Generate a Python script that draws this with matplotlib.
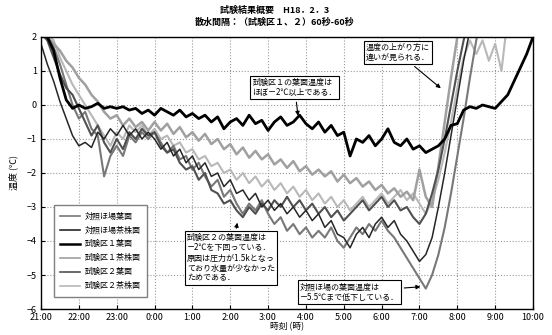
import numpy as np
import matplotlib
matplotlib.use("Agg")
import matplotlib.pyplot as plt

plt.rcParams['font.family'] = ['Noto Sans CJK JP', 'DejaVu Sans']

# readings every 10 minutes from 21:00 to 10:00 (hours after 21:00)
hours = np.linspace(0, 13, 79)
tick_labels = ["21:00", "22:00", "23:00", "0:00", "1:00", "2:00", "3:00",
               "4:00", "5:00", "6:00", "7:00", "8:00", "9:00", "10:00"]

n = None
# 対照ほ場葉面
ctrl_leaf = [2.2, 2.0, 1.7, 1.2, 0.6, 0.0,
             -0.4, -0.2, -0.7, -0.9, -2.1, -1.5,
             -1.2, -1.5, -0.9, -1.1, -0.8, -1.0,
             -0.8, -1.1, -1.4, -1.2, -1.6, -1.5,
             -1.9, -1.7, -2.1, -2.4, -2.2, -2.7,
             -2.5, -2.9, -3.2, -2.9, -3.1, -2.8,
             -3.2, -3.5, -3.3, -3.7, -3.5, -3.8,
             -3.6, -3.9, -3.7, -3.9, -3.6, -4.0,
             -4.2, -3.9, -3.6, -3.8, -3.5, -3.7,
             -3.4, -3.7, -3.9, -4.2, -4.5, -4.8,
             -5.1, -5.4, -5.0, -4.4, -3.6, -2.6,
             -1.5, -0.4, 0.8, 1.9, 2.8, n,
             n, n, n, n, n, n,
             n]
# 対照ほ場茶株面
ctrl_stock = [1.8, 1.2, 0.7, 0.1, -0.4, -0.9,
              -1.2, -1.1, -1.25, -0.8, -1.0, -0.7,
              -0.9, -0.6, -0.9, -0.7, -1.0, -0.8,
              -1.0, -1.3, -1.1, -1.5, -1.3, -1.7,
              -1.5, -1.9, -1.7, -2.1, -2.0, -2.4,
              -2.2, -2.6, -2.5, -2.8, -2.6, -3.0,
              -2.8, -3.1, -2.9, -3.2, -3.0, -3.3,
              -3.1, -3.4, -3.2, -3.6, -3.4, -3.8,
              -3.9, -4.2, -3.8, -3.6, -3.9, -3.5,
              -3.3, -3.6, -3.4, -3.8, -4.0, -4.3,
              -4.6, -4.4, -3.9, -3.0, -2.0, -0.9,
              0.2, 1.3, 2.2, 2.8, n, n,
              n, n, n, n, n, n,
              n]
# 試験区１葉面
t1_leaf = [2.3, 2.0, 1.6, 0.8, 0.15, -0.1,
           0.0, -0.1, -0.05, 0.05, -0.1, -0.05,
           -0.1, -0.05, -0.15, -0.1, -0.25, -0.15,
           -0.3, -0.1, -0.2, -0.3, -0.15, -0.35,
           -0.25, -0.4, -0.3, -0.5, -0.35, -0.7,
           -0.5, -0.4, -0.6, -0.3, -0.55, -0.45,
           -0.75, -0.5, -0.35, -0.6, -0.5, -0.3,
           -0.55, -0.7, -0.5, -0.8, -0.6, -0.9,
           -0.8, -1.5, -1.0, -1.1, -0.9, -1.2,
           -1.0, -0.7, -1.1, -1.2, -1.0, -1.3,
           -1.2, -1.4, -1.3, -1.2, -1.0, -0.6,
           -0.55, -0.15, -0.05, -0.1, 0.0, -0.05,
           -0.1, 0.1, 0.3, 0.7, 1.1, 1.5,
           2.0]
# 試験区１茶株面
t1_stock = [2.4, 2.0, 1.8, 1.6, 1.3, 1.1,
            0.8, 0.6, 0.3, 0.1, -0.2, -0.4,
            -0.3, -0.6, -0.4, -0.65, -0.5, -0.75,
            -0.5, -0.75, -0.55, -0.85, -0.65, -0.95,
            -0.8, -1.05, -0.85, -1.15, -1.0, -1.3,
            -1.15, -1.45, -1.25, -1.55, -1.35, -1.6,
            -1.45, -1.75, -1.6, -1.85, -1.65, -1.95,
            -1.8, -2.05, -1.9, -2.1, -1.95, -2.25,
            -2.05, -2.3, -2.15, -2.4, -2.25, -2.5,
            -2.35, -2.6, -2.45, -2.7, -2.55, -2.8,
            -1.9, -2.7, -3.0, -1.8, -0.5, 0.8,
            2.0, 2.8, n, n, n, n,
            n, n, n, n, n, n,
            n]
# 試験区２葉面
t2_leaf = [2.1, 1.9, 1.4, 0.9, 0.5, 0.3,
           -0.1, -0.5, -0.9, -0.6, -1.1, -1.4,
           -1.0, -1.3, -0.8, -1.0, -0.7, -0.9,
           -0.8, -1.2, -1.4, -1.3, -1.7, -1.9,
           -1.8, -2.2, -2.0, -2.5, -2.6, -2.9,
           -2.8, -3.1, -3.3, -3.0, -3.2, -2.9,
           -3.1, -2.8, -3.0, -2.7, -3.0, -2.8,
           -3.1, -2.9, -3.2, -3.0, -3.3, -3.1,
           -3.4, -3.2, -3.0, -2.8, -3.1, -2.9,
           -2.7, -3.0, -2.8, -3.1, -3.0, -3.3,
           -3.5, -3.2, -2.6, -1.9, -1.0, 0.0,
           1.0, 1.9, 2.6, n, n, n,
           n, n, n, n, n, n,
           n]
# 試験区２茶株面
t2_stock = [2.3, 2.1, 1.9, 1.4, 1.0, 0.6,
            0.3, 0.0, -0.3, -0.6, -0.9, -1.2,
            -0.8, -1.0, -0.6, -0.8, -0.6, -0.9,
            -0.7, -1.0, -0.9, -1.2, -1.1, -1.4,
            -1.3, -1.6, -1.5, -1.8, -1.7, -2.0,
            -1.9, -2.2, -2.0, -2.3, -2.1, -2.4,
            -2.2, -2.5, -2.3, -2.6, -2.4, -2.7,
            -2.5, -2.8, -2.6, -2.9, -2.7, -3.0,
            -2.8, -3.1, -2.9, -2.7, -3.0, -2.8,
            -2.6, -2.9, -2.7, -2.5, -2.8, -2.6,
            -2.9, -3.2, -2.8, -2.2, -1.4, -0.5,
            0.5, 1.4, 1.9, 1.5, 1.9, 1.3,
            1.8, 1.0, 2.6, n, n, n,
            n]

fig = plt.figure(figsize=(5.52, 3.35), dpi=100)
ax = fig.add_axes([0.0743, 0.0776, 0.8913, 0.812])

def arr(v):
    return np.array(v, dtype=float)

# light lines first, the thick black one on top
ax.plot(hours, arr(t2_stock), color="#b8b8b8", lw=1.5, label="試験区２茶株面")
ax.plot(hours, arr(t1_stock), color="#a0a0a0", lw=1.8, label="試験区１茶株面")
ax.plot(hours, arr(ctrl_leaf), color="#787878", lw=1.5, label="対照ほ場葉面")
ax.plot(hours, arr(t2_leaf), color="#505050", lw=1.5, label="試験区２葉面")
ax.plot(hours, arr(ctrl_stock), color="#262626", lw=1.1, label="対照ほ場茶株面")
ax.plot(hours, arr(t1_leaf), color="#000000", lw=2.0, label="試験区１葉面")

ax.set_xlim(0, 13)
ax.set_ylim(-6, 2)
ax.set_xticks(range(14))
ax.set_xticklabels(tick_labels)
ax.set_yticks(range(-6, 3))
ax.tick_params(labelsize=6.5, length=3, direction="in", pad=3)
ax.grid(True, linestyle=":", color="#999999", lw=0.8)
for s in ax.spines.values():
    s.set_linewidth(1.0)

ax.set_ylabel("温度 (℃)", fontsize=6.5, labelpad=6)
ax.set_xlabel("時刻 (時)", fontsize=6.3, labelpad=0)

fig.text(0.498, 0.968, "試験結果概要　H18．2．3", ha="center", va="center",
         fontsize=6.5, fontweight="bold")
fig.text(0.498, 0.933, "散水間隔：（試験区１、２）60秒-60秒", ha="center", va="center",
         fontsize=6.5, fontweight="bold")

# legend in the same order as the original
h, l = ax.get_legend_handles_labels()
order = ["対照ほ場葉面", "対照ほ場茶株面", "試験区１葉面", "試験区１茶株面", "試験区２葉面", "試験区２茶株面"]
hd = dict(zip(l, h))
leg = ax.legend([hd[k] for k in order], order, loc="lower left", bbox_to_anchor=(0.018, 0.03),
                fontsize=5.8, fancybox=False, edgecolor="#808080", framealpha=1,
                handlelength=2.4, labelspacing=0.62, borderpad=0.8, handletextpad=0.6)
leg.get_frame().set_linewidth(1.0)
for line in leg.get_lines():
    line.set_linewidth(1.2 if line.get_color() != "#000000" else 1.8)

box = dict(boxstyle="square,pad=0.25", fc="white", ec="black", lw=0.8)
arrow = dict(arrowstyle="-|>", color="black", lw=0.8, mutation_scale=6)
ax.annotate("試験区１の葉面温度は\nほぼ－2℃以上である．", xy=(6.8, -0.4), xytext=(6.7, 0.52),
            fontsize=5.8, ha="center", va="center", multialignment="left",
            bbox=box, arrowprops=arrow)
ax.annotate("温度の上がり方に\n違いが見られる．", xy=(10.62, 0.44), xytext=(9.43, 1.54),
            fontsize=5.8, ha="center", va="center", multialignment="left",
            bbox=box, arrowprops=arrow)
ax.annotate("試験区２の葉面温度は\n－2℃を下回っている．\n原因は圧力が1.5kとなっ\nており水量が少なかった\nためである．",
            xy=(5.2, -3.38), xytext=(5.02, -4.5),
            fontsize=5.8, ha="center", va="center", multialignment="left", linespacing=1.15,
            bbox=box, arrowprops=arrow)
ax.annotate("対照ほ場の葉面温度は\n－5.5℃まで低下している．", xy=(10.1, -5.34), xytext=(8.15, -5.5),
            fontsize=5.8, ha="center", va="center", multialignment="left",
            bbox=box, arrowprops=arrow)

fig.savefig("out.png", dpi=100)
